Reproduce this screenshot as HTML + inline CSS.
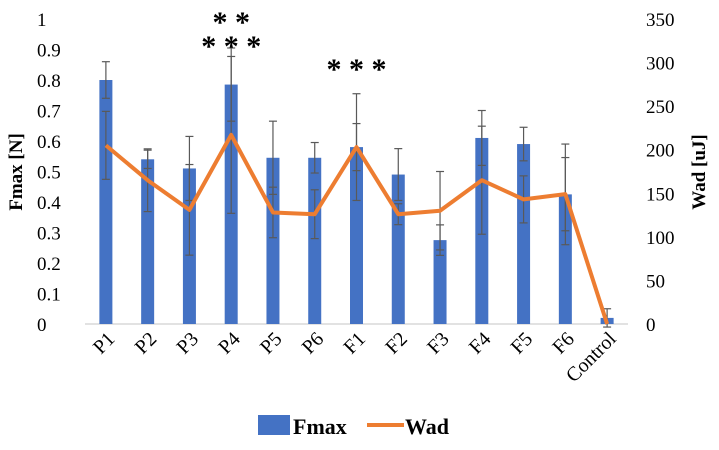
<!DOCTYPE html>
<html><head><meta charset="utf-8"><style>
body{margin:0;background:#fff;}
svg text{font-family:"Liberation Serif",serif;fill:#000;}
</style></head><body>
<svg id="chart" width="719" height="445" xmlns="http://www.w3.org/2000/svg"></svg>
<script>
const categories=["P1","P2","P3","P4","P5","P6","F1","F2","F3","F4","F5","F6","Control"];
const fmax=[0.80,0.54,0.51,0.785,0.545,0.545,0.58,0.49,0.275,0.61,0.59,0.425,0.02];
const fmaxErr=[0.06,0.03,0.105,0.12,0.12,0.05,0.175,0.085,0.05,0.09,0.055,0.165,0.03];
const wad=[205,165,131,217,128,126,203,126,130,165,143,149,0];
const wadErr=[39,36,52,90,29,28,27,12,45,62,27,42,0];
const leftTicks=[0,0.1,0.2,0.3,0.4,0.5,0.6,0.7,0.8,0.9,1];
const rightTicks=[0,50,100,150,200,250,300,350];
const svg=document.getElementById('chart');
const NS="http://www.w3.org/2000/svg";
const y0=324,y1=19,x0=85,x1=628;
const yL=v=>y0-(v/1)*(y0-y1);
const yR=v=>y0-(v/350)*(y0-y1);
const step=(x1-x0)/categories.length;
const xC=i=>x0+step*(i+0.5);
function mk(tag,attrs,parent){const e=document.createElementNS(NS,tag);for(const k in attrs)e.setAttribute(k,attrs[k]);(parent||svg).appendChild(e);return e;}
let e;
e=mk('line',{x1:x0,x2:x1,y1:y0,y2:y0,stroke:'#d9d9d9','stroke-width':1.5});


leftTicks.forEach(t=>{e=mk('text',{x:37,y:yL(t)+7,'font-size':19});e.textContent=String(t);

});
rightTicks.forEach(t=>{e=mk('text',{x:646,y:yR(t)+7,'font-size':19});e.textContent=String(t);

});
e=mk('text',{x:0,y:0,'text-anchor':'middle','font-size':19,'font-weight':'bold',transform:'translate(22,172) rotate(-90)'});e.textContent='Fmax [N]';


e=mk('text',{x:0,y:0,'text-anchor':'middle','font-size':19,'font-weight':'bold',transform:'translate(705,172) rotate(-90)'});e.textContent='Wad [uJ]';


const bw=13;
categories.forEach((c,i)=>{
 const x=xC(i);
 e=mk('rect',{x:x-bw/2,y:yL(fmax[i]),width:bw,height:y0-yL(fmax[i]),fill:'#4472c4'});
 
 
 e=mk('text',{x:0,y:0,'text-anchor':'end','font-size':20,transform:`translate(${x+10},${y0+16}) rotate(-45)`});e.textContent=c;
 
 
});
categories.forEach((c,i)=>{
 const x=xC(i);
 [[yL(fmax[i]+fmaxErr[i]),yL(fmax[i]-fmaxErr[i])],[yR(wad[i]+wadErr[i]),yR(Math.max(0,wad[i]-wadErr[i]))]].forEach((p,k)=>{
  const g=mk('g',{stroke:'#595959','stroke-width':1.2});
  
  
  if(p[0]===p[1])return;
  mk('line',{x1:x,x2:x,y1:p[0],y2:p[1]},g);
  mk('line',{x1:x-4,x2:x+4,y1:p[0],y2:p[0]},g);
  mk('line',{x1:x-4,x2:x+4,y1:p[1],y2:p[1]},g);
 });
});
e=mk('polyline',{points:wad.map((v,i)=>xC(i)+','+yR(v)).join(' '),fill:'none',stroke:'#ed7d31','stroke-width':4,'stroke-linejoin':'round'});


[[3,22,'* *'],[3,46,'* * *'],[6,69,'* * *']].forEach(s=>{
 e=mk('text',{x:xC(s[0]),y:s[1]+10,'text-anchor':'middle','font-size':30,'font-weight':'bold'});e.textContent=s[2];
 
 
});
e=mk('rect',{x:258,y:415,width:32,height:20,fill:'#4472c4'});


e=mk('text',{x:293,y:434,'font-size':22,'font-weight':'bold'});e.textContent='Fmax';


e=mk('line',{x1:367,x2:404,y1:425,y2:425,stroke:'#ed7d31','stroke-width':4});


e=mk('text',{x:405,y:434,'font-size':22,'font-weight':'bold'});e.textContent='Wad';


</script>
</body></html>
